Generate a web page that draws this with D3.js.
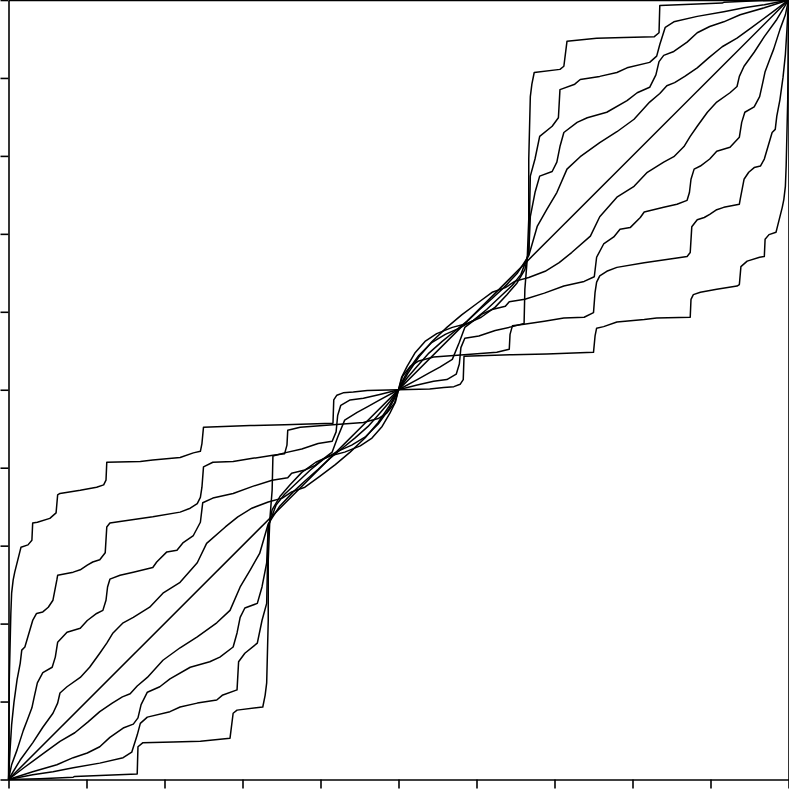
<!DOCTYPE html>
<html lang="en">
<head>
<meta charset="UTF-8">
<title>Curves</title>
<script src="https://cdn.jsdelivr.net/npm/d3@7"></script>
<style>
  html, body { margin: 0; padding: 0; background: #fff; }
  svg { display: block; }
  .curve { fill: none; stroke: #000; stroke-width: 1.5; stroke-linejoin: round; }
  .axis path, .axis line { stroke: #000; stroke-width: 1.6; }
</style>
</head>
<body>
<script>
// tick positions (no labels visible in the picture)
var xTicks = [0, 0.1, 0.2, 0.3, 0.4, 0.5, 0.6, 0.7, 0.8, 0.9, 1];
var yTicks = [0, 0.1, 0.2, 0.3, 0.4, 0.5, 0.6, 0.7, 0.8, 0.9, 1];

// straight line through the middle
var diagonal = [[0, 0], [1, 1]];

// steepest curve at the origin (top left), flat towards the middle
var curveA = [[0,0],[0.001,0.128],[0.003,0.213],[0.004,0.239],[0.006,0.256],[0.008,0.266],[0.015,0.294],[0.016,0.298],[0.025,0.301],[0.030,0.307],[0.031,0.329],[0.037,0.330],[0.053,0.335],[0.061,0.342],[0.063,0.365],[0.066,0.367],[0.092,0.371],[0.113,0.375],[0.122,0.378],[0.125,0.384],[0.126,0.407],[0.169,0.408],[0.185,0.410],[0.220,0.413],[0.237,0.419],[0.246,0.421],[0.248,0.431],[0.250,0.452],[0.310,0.454],[0.354,0.455],[0.416,0.457],[0.417,0.487],[0.421,0.493],[0.429,0.496],[0.442,0.497],[0.460,0.499],[0.5,0.5],
  [0.540,0.501],[0.558,0.503],[0.571,0.504],[0.579,0.507],[0.583,0.513],[0.584,0.543],[0.646,0.545],[0.690,0.546],[0.750,0.548],[0.752,0.569],[0.754,0.579],[0.763,0.581],[0.780,0.587],[0.815,0.590],[0.831,0.592],[0.874,0.593],[0.875,0.616],[0.878,0.622],[0.887,0.625],[0.908,0.629],[0.934,0.633],[0.937,0.635],[0.939,0.658],[0.947,0.665],[0.963,0.670],[0.969,0.671],[0.970,0.693],[0.975,0.699],[0.984,0.702],[0.985,0.706],[0.992,0.734],[0.994,0.744],[0.996,0.761],[0.997,0.787],[0.999,0.872],[1,1]];

var curveB = [[0,0],[0.002,0.038],[0.004,0.070],[0.007,0.099],[0.011,0.128],[0.015,0.149],[0.017,0.166],[0.021,0.170],[0.031,0.204],[0.036,0.213],[0.044,0.215],[0.051,0.221],[0.057,0.230],[0.062,0.256],[0.063,0.262],[0.083,0.266],[0.092,0.269],[0.101,0.275],[0.108,0.279],[0.117,0.282],[0.124,0.291],[0.126,0.324],[0.130,0.329],[0.143,0.331],[0.185,0.337],[0.220,0.343],[0.233,0.348],[0.242,0.354],[0.246,0.362],[0.248,0.375],[0.250,0.401],[0.262,0.407],[0.288,0.408],[0.313,0.412],[0.339,0.416],[0.354,0.418],[0.357,0.429],[0.358,0.448],[0.374,0.452],[0.416,0.455],[0.455,0.458],[0.474,0.463],[0.485,0.470],[0.495,0.483],[0.5,0.5],
  [0.505,0.517],[0.515,0.530],[0.526,0.537],[0.545,0.542],[0.584,0.545],[0.626,0.548],[0.642,0.552],[0.643,0.571],[0.646,0.582],[0.661,0.584],[0.687,0.588],[0.712,0.592],[0.738,0.593],[0.750,0.599],[0.752,0.625],[0.754,0.638],[0.758,0.646],[0.767,0.652],[0.780,0.657],[0.815,0.663],[0.857,0.669],[0.870,0.671],[0.874,0.676],[0.876,0.709],[0.883,0.718],[0.892,0.721],[0.899,0.725],[0.908,0.731],[0.917,0.734],[0.937,0.738],[0.938,0.744],[0.943,0.770],[0.949,0.779],[0.956,0.785],[0.964,0.787],[0.969,0.796],[0.979,0.830],[0.983,0.834],[0.985,0.851],[0.989,0.872],[0.993,0.901],[0.996,0.930],[0.998,0.962],[1,1]];

var curveC = [[0,0],[0.004,0.019],[0.011,0.038],[0.019,0.063],[0.024,0.076],[0.030,0.092],[0.033,0.106],[0.037,0.124],[0.044,0.137],[0.056,0.144],[0.060,0.157],[0.063,0.176],[0.075,0.189],[0.092,0.194],[0.101,0.204],[0.113,0.213],[0.121,0.217],[0.125,0.230],[0.127,0.247],[0.130,0.257],[0.143,0.262],[0.160,0.266],[0.185,0.272],[0.190,0.279],[0.203,0.292],[0.216,0.294],[0.224,0.304],[0.237,0.313],[0.246,0.330],[0.249,0.355],[0.262,0.361],[0.288,0.367],[0.313,0.376],[0.338,0.384],[0.358,0.387],[0.363,0.393],[0.380,0.397],[0.393,0.403],[0.402,0.410],[0.415,0.420],[0.422,0.439],[0.431,0.461],[0.447,0.471],[0.460,0.478],[0.476,0.487],[0.5,0.5],
  [0.524,0.513],[0.540,0.522],[0.553,0.529],[0.569,0.539],[0.578,0.561],[0.585,0.580],[0.598,0.590],[0.607,0.597],[0.620,0.603],[0.637,0.607],[0.642,0.613],[0.662,0.616],[0.687,0.624],[0.712,0.633],[0.738,0.639],[0.751,0.645],[0.754,0.670],[0.763,0.687],[0.776,0.696],[0.784,0.706],[0.797,0.708],[0.810,0.721],[0.815,0.728],[0.840,0.734],[0.857,0.738],[0.870,0.743],[0.873,0.753],[0.875,0.770],[0.879,0.783],[0.887,0.787],[0.899,0.796],[0.908,0.806],[0.925,0.811],[0.937,0.824],[0.940,0.843],[0.944,0.856],[0.956,0.863],[0.963,0.876],[0.967,0.894],[0.970,0.908],[0.976,0.924],[0.981,0.937],[0.989,0.962],[0.996,0.981],[1,1]];

var curveD = [[0,0],[0.015,0.025],[0.031,0.047],[0.044,0.067],[0.057,0.085],[0.063,0.098],[0.066,0.111],[0.075,0.119],[0.092,0.131],[0.104,0.144],[0.117,0.162],[0.126,0.175],[0.134,0.188],[0.147,0.201],[0.160,0.208],[0.181,0.221],[0.198,0.239],[0.220,0.253],[0.242,0.278],[0.254,0.303],[0.278,0.324],[0.294,0.337],[0.312,0.348],[0.333,0.356],[0.351,0.361],[0.363,0.369],[0.380,0.375],[0.399,0.389],[0.419,0.404],[0.438,0.420],[0.457,0.438],[0.474,0.458],[0.488,0.479],[0.5,0.5],
  [0.512,0.521],[0.526,0.542],[0.543,0.562],[0.562,0.580],[0.581,0.596],[0.601,0.611],[0.620,0.625],[0.637,0.631],[0.649,0.639],[0.667,0.644],[0.688,0.652],[0.706,0.663],[0.722,0.676],[0.746,0.697],[0.758,0.722],[0.780,0.747],[0.802,0.761],[0.819,0.779],[0.840,0.792],[0.853,0.799],[0.866,0.812],[0.874,0.825],[0.883,0.838],[0.896,0.856],[0.908,0.869],[0.925,0.881],[0.934,0.889],[0.937,0.902],[0.943,0.915],[0.956,0.933],[0.969,0.953],[0.985,0.975],[1,1]];

var curveF = [[0,0],[0.021,0.016],[0.047,0.035],[0.066,0.049],[0.085,0.060],[0.102,0.074],[0.117,0.087],[0.133,0.098],[0.146,0.106],[0.156,0.110],[0.165,0.120],[0.178,0.131],[0.198,0.153],[0.220,0.169],[0.242,0.183],[0.267,0.201],[0.284,0.217],[0.297,0.247],[0.310,0.269],[0.322,0.290],[0.333,0.328],[0.348,0.351],[0.365,0.369],[0.380,0.383],[0.397,0.398],[0.412,0.412],[0.428,0.425],[0.444,0.438],[0.461,0.453],[0.476,0.470],[0.489,0.485],[0.5,0.5],
  [0.511,0.515],[0.524,0.530],[0.539,0.547],[0.556,0.562],[0.572,0.575],[0.588,0.588],[0.603,0.602],[0.620,0.617],[0.635,0.631],[0.652,0.649],[0.667,0.672],[0.678,0.710],[0.690,0.731],[0.703,0.753],[0.716,0.783],[0.733,0.799],[0.758,0.817],[0.780,0.831],[0.802,0.847],[0.822,0.869],[0.835,0.880],[0.844,0.890],[0.854,0.894],[0.867,0.902],[0.883,0.913],[0.898,0.926],[0.915,0.940],[0.934,0.951],[0.953,0.965],[0.979,0.984],[1,1]];

var curveG = [[0,0],[0.031,0.010],[0.062,0.019],[0.083,0.028],[0.101,0.034],[0.117,0.042],[0.130,0.054],[0.147,0.066],[0.160,0.071],[0.166,0.079],[0.170,0.096],[0.178,0.112],[0.194,0.119],[0.207,0.129],[0.233,0.144],[0.258,0.151],[0.271,0.157],[0.288,0.170],[0.293,0.188],[0.297,0.208],[0.303,0.220],[0.319,0.226],[0.325,0.247],[0.331,0.278],[0.333,0.325],[0.343,0.352],[0.354,0.366],[0.369,0.380],[0.387,0.397],[0.404,0.411],[0.422,0.421],[0.440,0.429],[0.458,0.440],[0.474,0.456],[0.487,0.474],[0.494,0.487],[0.5,0.5],
  [0.506,0.513],[0.513,0.526],[0.526,0.544],[0.542,0.560],[0.560,0.571],[0.578,0.579],[0.596,0.589],[0.613,0.603],[0.631,0.620],[0.646,0.634],[0.657,0.648],[0.667,0.675],[0.669,0.722],[0.675,0.753],[0.681,0.774],[0.697,0.780],[0.703,0.792],[0.707,0.812],[0.712,0.830],[0.729,0.843],[0.742,0.849],[0.767,0.856],[0.793,0.871],[0.806,0.881],[0.822,0.888],[0.830,0.904],[0.834,0.921],[0.840,0.929],[0.853,0.934],[0.870,0.946],[0.883,0.958],[0.899,0.966],[0.917,0.972],[0.938,0.981],[0.969,0.990],[1,1]];

var curveH = [[0,0],[0.031,0.006],[0.057,0.010],[0.083,0.015],[0.117,0.021],[0.147,0.028],[0.158,0.035],[0.165,0.057],[0.169,0.072],[0.178,0.080],[0.207,0.087],[0.220,0.093],[0.242,0.098],[0.267,0.102],[0.274,0.108],[0.293,0.115],[0.295,0.151],[0.303,0.162],[0.319,0.175],[0.325,0.204],[0.331,0.226],[0.333,0.322],[0.338,0.346],[0.348,0.363],[0.361,0.378],[0.376,0.394],[0.394,0.407],[0.412,0.415],[0.431,0.420],[0.451,0.428],[0.466,0.438],[0.479,0.453],[0.489,0.470],[0.496,0.484],[0.5,0.5],
  [0.504,0.516],[0.511,0.530],[0.521,0.547],[0.534,0.562],[0.549,0.572],[0.569,0.580],[0.588,0.585],[0.606,0.593],[0.624,0.606],[0.639,0.622],[0.652,0.637],[0.662,0.654],[0.667,0.678],[0.669,0.774],[0.675,0.796],[0.681,0.825],[0.697,0.838],[0.705,0.849],[0.707,0.885],[0.726,0.892],[0.733,0.898],[0.758,0.902],[0.780,0.907],[0.793,0.913],[0.822,0.920],[0.831,0.928],[0.835,0.943],[0.842,0.965],[0.853,0.972],[0.883,0.979],[0.917,0.985],[0.943,0.990],[0.969,0.994],[1,1]];

// flattest curve at the origin (bottom right of the lower half)
var curveI = [[0,0],[0.040,0.001],[0.083,0.003],[0.085,0.004],[0.165,0.007],[0.166,0.042],[0.172,0.047],[0.211,0.048],[0.246,0.049],[0.284,0.053],[0.288,0.085],[0.293,0.089],[0.326,0.093],[0.329,0.108],[0.331,0.124],[0.333,0.204],[0.333,0.281],[0.335,0.333],[0.338,0.371],[0.339,0.415],[0.354,0.419],[0.376,0.424],[0.397,0.431],[0.415,0.434],[0.420,0.446],[0.422,0.467],[0.426,0.480],[0.438,0.487],[0.455,0.489],[0.476,0.494],[0.5,0.5],
  [0.524,0.506],[0.545,0.511],[0.562,0.513],[0.574,0.520],[0.578,0.533],[0.580,0.554],[0.585,0.566],[0.603,0.569],[0.624,0.576],[0.646,0.581],[0.661,0.585],[0.662,0.629],[0.665,0.667],[0.667,0.719],[0.667,0.796],[0.669,0.876],[0.671,0.892],[0.674,0.907],[0.707,0.911],[0.712,0.915],[0.716,0.947],[0.754,0.951],[0.789,0.952],[0.828,0.953],[0.834,0.958],[0.835,0.993],[0.915,0.996],[0.917,0.997],[0.960,0.999],[1,1]];

var series = [curveA, curveB, curveC, curveD, diagonal, curveF, curveG, curveH, curveI];

var width = 789,
    height = 789;

var x = d3.scaleLinear().domain([0, 1]).range([8.5, 788.5]);
var y = d3.scaleLinear().domain([0, 1]).range([779.5, 0]);

var svg = d3.select("body").append("svg")
    .attr("width", width)
    .attr("height", height);

var line = d3.line()
    .x(function (d) { return x(d[0]); })
    .y(function (d) { return y(d[1]); });

svg.selectAll(".curve")
    .data(series)
    .enter()
    .append("path")
    .attr("class", "curve")
    .attr("d", line);

// frame with ticks
svg.append("g")
    .attr("class", "axis")
    .attr("transform", "translate(0," + y(0) + ")")
    .call(d3.axisBottom(x).tickValues(xTicks).tickSize(9).tickSizeOuter(0).tickFormat(""));

svg.append("g")
    .attr("class", "axis")
    .attr("transform", "translate(" + x(0) + ",0)")
    .call(d3.axisLeft(y).tickValues(yTicks).tickSize(8).tickSizeOuter(0).tickFormat(""));

svg.append("g")
    .attr("class", "axis")
    .attr("transform", "translate(0," + y(1) + ")")
    .call(d3.axisTop(x).tickValues([]).tickSizeOuter(0));

svg.append("g")
    .attr("class", "axis")
    .attr("transform", "translate(" + x(1) + ",0)")
    .call(d3.axisRight(y).tickValues([]).tickSizeOuter(0));
</script>
</body>
</html>
